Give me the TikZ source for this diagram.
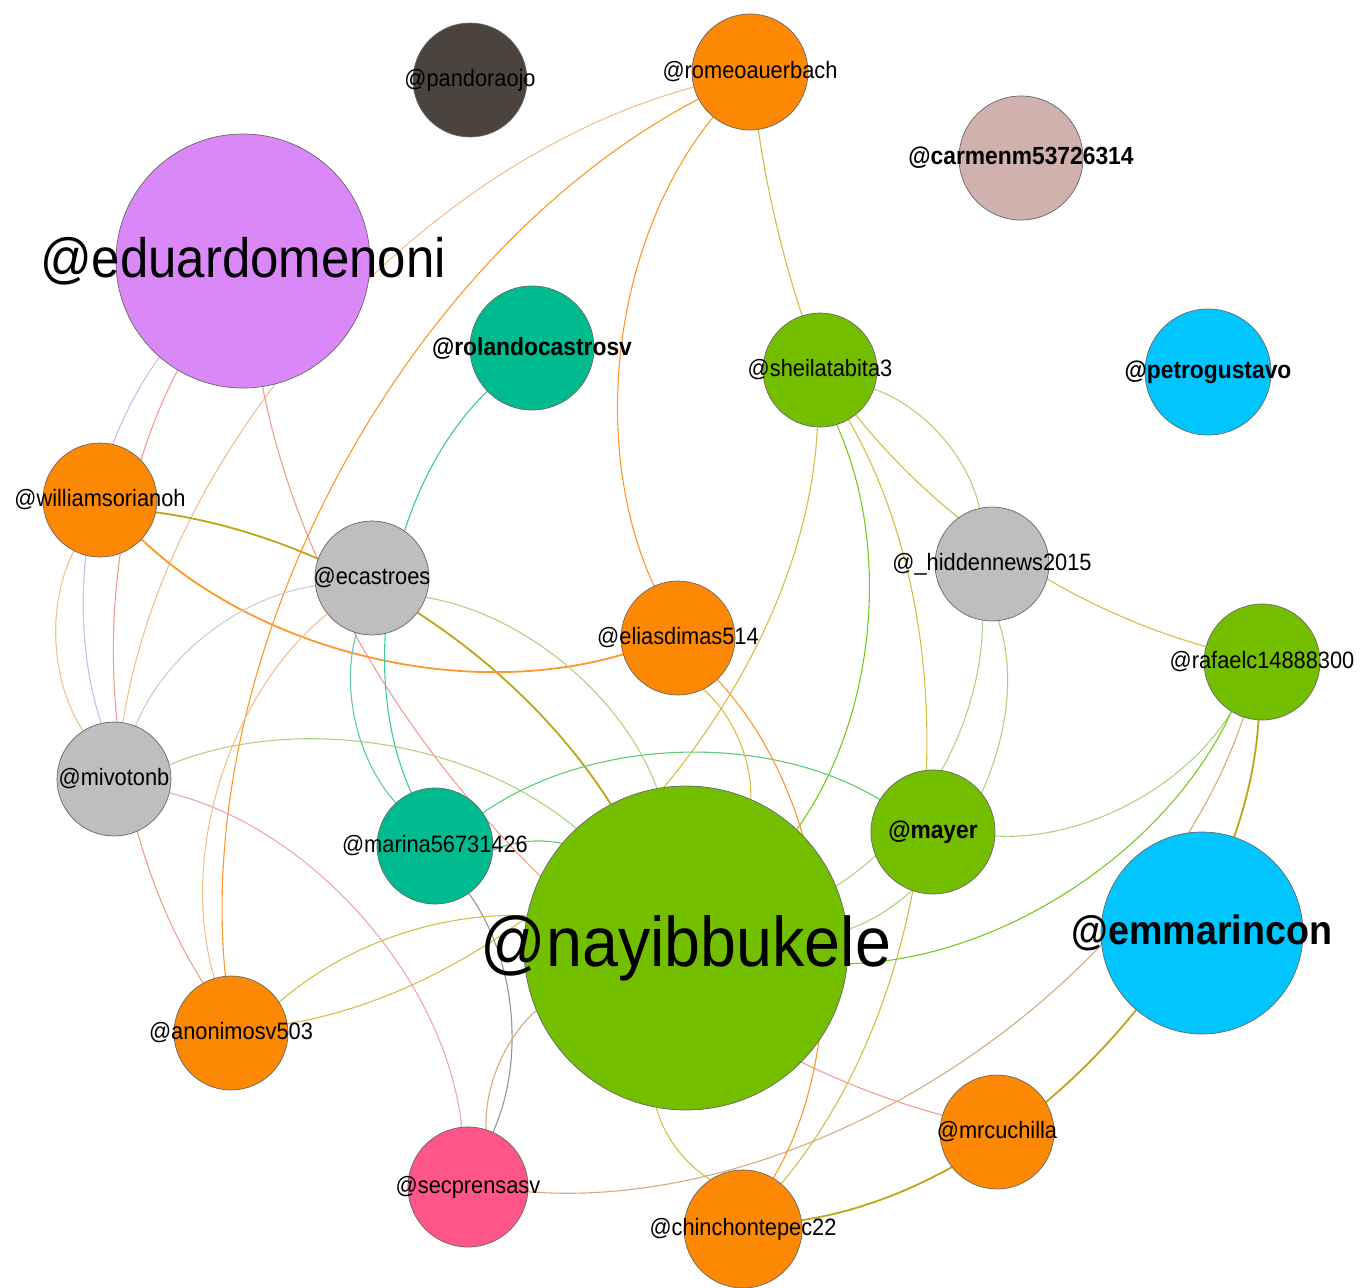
\documentclass[tikz,border=0pt]{standalone}
\usepackage{fontspec}
\setmainfont{Liberation Sans}[FakeStretch=0.92]
\usetikzlibrary{backgrounds}

% node colours
\definecolor{corange}{RGB}{252,136,4}
\definecolor{cgreen}{RGB}{116,190,0}
\definecolor{cgray}{RGB}{190,190,190}
\definecolor{cteal}{RGB}{0,187,143}
\definecolor{ccyan}{RGB}{0,197,255}
\definecolor{cviolet}{RGB}{218,136,248}
\definecolor{cpink}{RGB}{255,85,136}
\definecolor{cdark}{RGB}{75,68,62}
\definecolor{crosy}{RGB}{209,177,174}
% edge colours
\definecolor{klav}{RGB}{214,182,236}
\definecolor{ksalmon}{RGB}{242,156,146}
\definecolor{kpeach}{RGB}{240,192,142}
\definecolor{korange}{RGB}{255,150,40}
\definecolor{kolive}{RGB}{212,190,70}
\definecolor{kolivedk}{RGB}{190,165,20}
\definecolor{kgray}{RGB}{204,204,204}
\definecolor{klgreen}{RGB}{172,212,125}
\definecolor{kpink}{RGB}{236,164,188}
\definecolor{kteal}{RGB}{60,200,165}
\definecolor{klteal}{RGB}{100,200,172}
\definecolor{kgreen}{RGB}{120,200,30}
\definecolor{kgteal}{RGB}{95,202,115}
\definecolor{ktan}{RGB}{208,172,128}
\definecolor{kslate}{RGB}{140,150,156}

\begin{document}
\begin{tikzpicture}[x=1pt, y=1pt,
    user/.style={circle, draw=black!60, line width=0.7pt, inner sep=0pt, minimum size=#1},
    link/.style={line width=1.1pt, looseness=0.85, draw=#1},
    thicklink/.style={line width=1.8pt, looseness=0.85, draw=#1},
    tag/.style={inner sep=0pt, font=\fontsize{23.7}{24}\selectfont},
    tagb/.style={inner sep=0pt, font=\fontsize{24.8}{25}\selectfont\bfseries},
    tagbig/.style={inner sep=0pt, font=\fontsize{#1}{#1}\selectfont},
    tagbigb/.style={inner sep=0pt, font=\fontsize{#1}{#1}\selectfont\bfseries}]
  \useasboundingbox (0,0) rectangle (1361,-1288);

  % Accounts
  \foreach \id/\px/\py/\dm/\col in {
      pandora/470/80/114/cdark, romeo/750/72/116/corange,
      carmen/1021/158/124/crosy, ed/243/261/254/cviolet,
      roland/532/348/124/cteal, sheila/820/370/114/cgreen,
      petro/1208/372/126/ccyan, william/100/500/114/corange,
      ecastro/372/578/114/cgray, hidden/992/564/114/cgray,
      elias/678/638/114/corange, rafael/1262/662/116/cgreen,
      mivoto/114/779/114/cgray, marina/435/846/116/cteal,
      mayer/933/832/124/cgreen, nayib/686/948/324/cgreen,
      emma/1202/933/202/ccyan, anon/231/1033/114/corange,
      mrcu/997/1132/114/corange, secpr/468/1187/120/cpink,
      chinch/743/1229/118/corange}
    \node[user=\dm pt, fill=\col] (\id) at (\px,-\py) {};

  % Mentions, under the accounts
  \begin{scope}[on background layer]
    % from romeo
    \draw[link=kpeach] (romeo) to[bend right=33] (mivoto);
    \draw[link=korange] (romeo) to[bend right=34] (anon);
    \draw[link=korange] (romeo) to[bend right=32] (elias);
    \draw[link=kolive] (romeo) to[bend right=5] (sheila);
    % from eduardomenoni
    \draw[link=klav] (ed) to[bend right=27] (mivoto);
    \draw[link=ksalmon] (ed) to[bend right=30] (anon);
    \draw[link=ksalmon] (ed) to[bend right=32] (mrcu);
    % from williamsorianoh
    \draw[thicklink=kolivedk] (william) to[bend left=25] (nayib);
    \draw[thicklink=korange] (william) to[bend right=30] (elias);
    \draw[link=kpeach] (william) to[bend right=30] (mivoto);
    % from mivotonb
    \draw[link=kgray] (mivoto) to[bend left=30] (ecastro);
    \draw[link=klgreen] (mivoto) to[bend left=31] (nayib);
    \draw[link=kpink] (mivoto) to[bend left=35] (secpr);
    % from rolandocastrosv and ecastroes
    \draw[link=kteal] (roland) to[bend right=35] (marina);
    \draw[link=klteal] (ecastro) to[bend right=29] (marina);
    \draw[link=klgreen] (ecastro) to[bend left=30] (nayib);
    \draw[link=kpeach] (ecastro) to[bend right=34] (anon);
    % from sheilatabita3
    \draw[link=kolive] (sheila) to[bend left=39] (anon);
    \draw[link=kgreen] (sheila) to[bend left=30] (nayib);
    \draw[link=kolive] (sheila) to[bend right=18] (rafael);
    \draw[link=klgreen] (sheila) to[bend left=29] (hidden);
    \draw[link=kolive] (sheila) to[bend left=35] (chinch);
    % from _hiddennews2015
    \draw[link=klgreen] (hidden) to[bend left=29] (nayib);
    \draw[link=klgreen] (hidden) to[bend left=45] (nayib);
    % from and to rafaelc14888300
    \draw[link=klgreen] (rafael) to[bend left=31] (mayer);
    \draw[link=kgreen] (rafael) to[bend left=32] (nayib);
    \draw[link=ktan] (secpr) to[bend right=38] (rafael);
    \draw[thicklink=kolivedk] (chinch) to[bend right=39] (rafael);
    % mayer and marina56731426
    \draw[link=kgteal] (mayer) to[bend right=33] (marina);
    \draw[link=kgteal] (marina) to[bend left=18] (nayib);
    \draw[link=kslate] (marina) to[bend left=30] (secpr);
    % round nayibbukele
    \draw[link=kolive] (elias) to[bend left=25] (nayib);
    \draw[link=korange] (elias) to[bend left=37] (chinch);
    \draw[link=kolive] (anon) to[bend left=22] (nayib);
    \draw[link=kolive] (nayib) to[bend right=22] (chinch);
    \draw[link=ktan] (nayib) to[bend right=25] (secpr);
  \end{scope}

  % Labels
  \foreach \id/\txt in {pandora/@pandoraojo, romeo/@romeoauerbach,
      sheila/@sheilatabita3, william/@williamsorianoh, ecastro/@ecastroes,
      hidden/@\_hiddennews2015, elias/@eliasdimas514, rafael/@rafaelc14888300,
      mivoto/@mivotonb, marina/@marina56731426, anon/@anonimosv503,
      mrcu/@mrcuchilla, secpr/@secprensasv, chinch/@chinchontepec22}
    \node[tag] (\id-tag) at (\id) {\txt};
  \foreach \id/\txt in {carmen/@carmenm53726314, roland/@rolandocastrosv,
      petro/@petrogustavo, mayer/@mayer}
    \node[tagb] (\id-tag) at (\id) {\txt};
  \node[tagbigb=40.9] (emma-tag) at (emma) {@emmarincon};
  \node[tagbig=55.4] (ed-tag) at (ed) {@eduardomenoni};
  \node[tagbig=70.2] (nayib-tag) at (nayib) {@nayibbukele};
\end{tikzpicture}
\end{document}
